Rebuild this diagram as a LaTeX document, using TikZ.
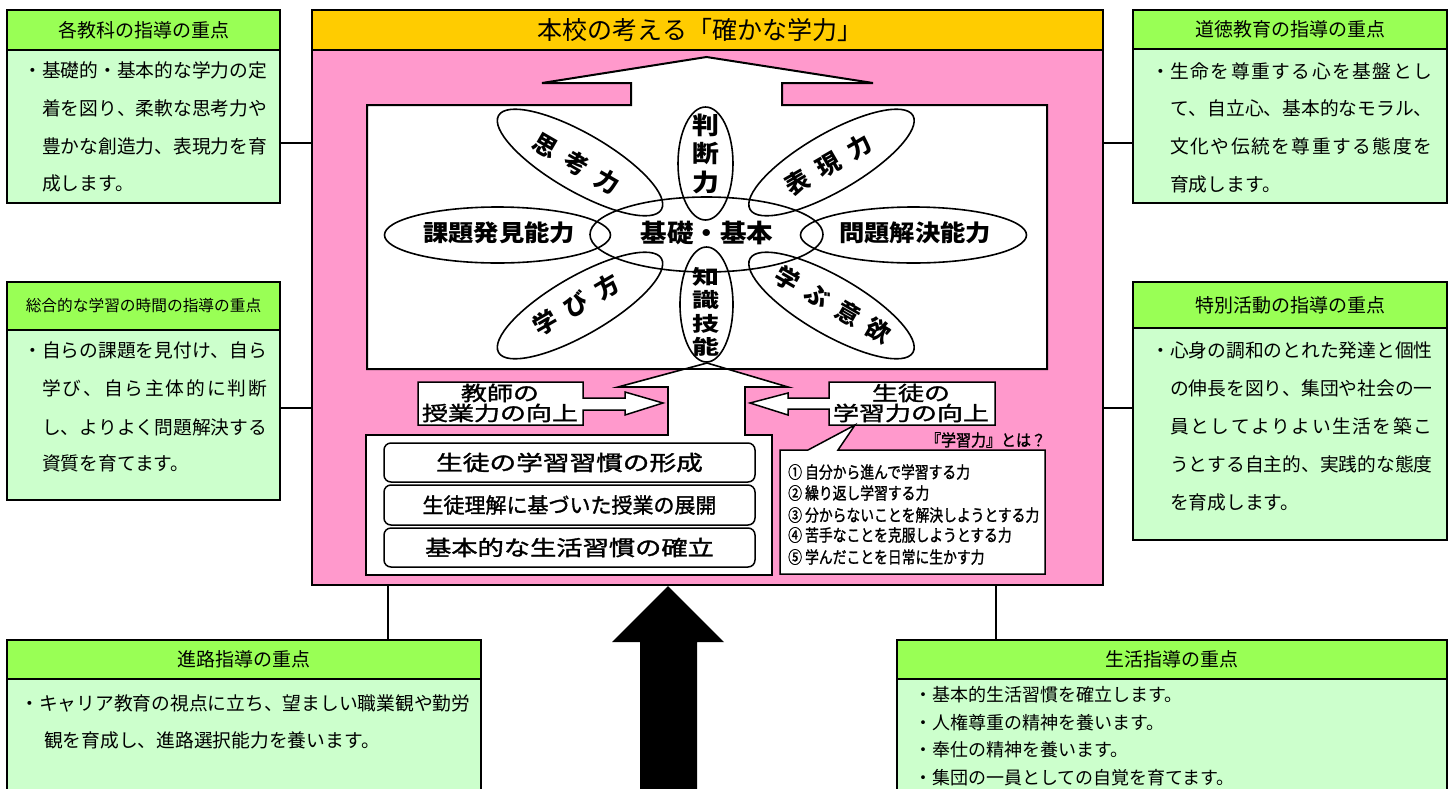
\documentclass[tikz,border=0pt]{standalone}
\usepackage{fontspec}
\usetikzlibrary{shapes.geometric}
\newfontfamily\jp{Noto Sans CJK JP}
\newfontfamily\jpm[FakeBold=1.4]{Noto Sans CJK JP}
\definecolor{hgreen}{RGB}{153,255,85}
\definecolor{lgreen}{RGB}{204,255,204}
\definecolor{pinkc}{RGB}{255,153,204}
\definecolor{yellowc}{RGB}{255,204,0}
\newcommand\fs[1]{\fontsize{#1}{#1}\selectfont}
\makeatletter
\def\spreadchars#1{\spr@a#1\relax}
\def\spr@a#1{#1\futurelet\spr@next\spr@b}
\def\spr@b{\ifx\spr@next\relax\expandafter\@gobble\else\hfill\expandafter\spr@a\fi}
\makeatother
\newcommand\spr[2]{\makebox[#1pt][l]{\spreadchars{#2}}}
\begin{document}
\begin{tikzpicture}[x=1pt,y=-1pt,
  hdr/.style={draw, line width=2pt, fill=hgreen, inner sep=0pt, font=\jp\fs{19}},
  bodyb/.style={draw, line width=2pt, fill=lgreen, inner sep=0pt},
  txt/.style={inner sep=0pt, anchor=west, font=\jp\fs{18.75}},
  ctxt/.style={inner sep=0pt},
  petal/.style={ellipse, draw, line width=1.6pt, inner sep=0pt},
  ptxt/.style={inner sep=0pt, font=\jp\bfseries\fs{24}},
  conn/.style={line width=1.8pt},
  thinl/.style={line width=1.3pt},
  wshape/.style={draw, fill=white, line width=2pt},
  rbox/.style={draw, fill=white, rounded corners=7pt, line width=1.5pt, inner sep=0pt, font=\jpm\fs{21}},
  ltxt/.style={inner sep=0pt, anchor=west, font=\jpm\fs{15}}
]
\useasboundingbox (0,0) rectangle (1450,788);

% ---------- main box ----------
\node[draw, line width=2pt, fill=pinkc, minimum width=791pt, minimum height=575pt, inner sep=0pt] (main) at (707.5,297.5) {};
\node[draw, line width=2pt, fill=yellowc, minimum width=791pt, minimum height=40pt, inner sep=0pt] (title) at (707.5,30) {};
\node[ctxt, font=\jp\fs{25}] (titleT) at (700,30) {本校の考える「確かな学力」};

% upper white arrow + frame
\draw[wshape] (367,105) -- (631,105) -- (631,83) -- (542,83) -- (706.5,57) -- (873,83) -- (782,83) -- (782,105) -- (1047,105) -- (1047,369) -- (367,369) -- cycle;

% lower white arrow + box
\draw[wshape, line width=1.6pt] (366,435) -- (668,435) -- (668,387) -- (618,387) -- (707,363) -- (788,387) -- (745,387) -- (745,435) -- (772,435) -- (772,575) -- (366,575) -- cycle;
\draw[line width=2pt] (367,369) -- (1047,369);

% ellipses
\node[petal, minimum width=233pt, minimum height=75pt] (kiso) at (706.5,234.5) {};
\node[petal, minimum width=226pt, minimum height=56pt] (kadai) at (497.5,235) {};
\node[petal, minimum width=226pt, minimum height=56pt] (mondai) at (913.5,235) {};
\node[petal, minimum width=55pt, minimum height=113pt] (handan) at (705.5,163.5) {};
\node[petal, minimum width=53pt, minimum height=115pt] (chishiki) at (706.5,304.5) {};
\node[petal, minimum width=188pt, minimum height=58pt, rotate=-30] (shiko) at (580,162.5) {};
\node[petal, minimum width=188pt, minimum height=58pt, rotate=30] (hyogen) at (831.5,162.5) {};
\node[petal, minimum width=188pt, minimum height=58pt, rotate=30] (manabikata) at (580,305.5) {};
\node[petal, minimum width=188pt, minimum height=58pt, rotate=-30] (manabu) at (831.5,305.5) {};

\node[ctxt, font=\jp\bfseries\fs{25}] (kisoT) at (707,233) {\scalebox{1.06}[1]{基礎・基本}};
\node[ctxt, font=\jp\bfseries\fs{23}] (kadaiT) at (499,233) {\scalebox{1.1}[1]{課題発見能力}};
\node[ctxt, font=\jp\bfseries\fs{23}] (mondaiT) at (915,233) {\scalebox{1.1}[1]{問題解決能力}};
\node[ctxt, font=\jp\bfseries\fontsize{24}{26.5}\selectfont] (handanT) at (705.5,156.5) {\scalebox{1.12}[1]{\begin{tabular}{@{}c@{}}判\\断\\力\end{tabular}}};
\node[ctxt, font=\jp\bfseries\fontsize{20}{20.7}\selectfont] (chishikiT) at (706,314) {\scalebox{1.35}[1]{\begin{tabular}{@{}c@{}}知\\識\\技\\能\end{tabular}}};
\node[ptxt, rotate=-30] (shikoT) at (576.5,163.5) {思\hspace{12pt}考\hspace{12pt}力};
\node[ptxt, rotate=30] (hyogenT) at (828.5,164.5) {表\hspace{12pt}現\hspace{12pt}力};
\node[ptxt, rotate=30] (manabikataT) at (576.5,305) {学\hspace{12pt}び\hspace{12pt}方};
\node[ptxt, rotate=-30] (manabuT) at (833,304.5) {学\hspace{11pt}ぶ\hspace{11pt}意\hspace{11pt}欲};

% block arrows
\draw[wshape, line width=1.5pt] (418,382) -- (583,382) -- (583,398) -- (625,398) -- (625,392) -- (663,403) -- (625,415) -- (625,410) -- (583,410) -- (583,425) -- (418,425) -- cycle;
\node[ctxt, align=center, font=\jpm\fs{20}] (kyoshiT) at (500,403) {\scalebox{1.3}[1]{教師の}\\\scalebox{1.3}[1]{授業力の向上}};
\draw[wshape, line width=1.5pt] (995,382) -- (829,382) -- (829,398) -- (788,398) -- (788,393) -- (750,403) -- (788,415) -- (788,409) -- (829,409) -- (829,425) -- (995,425) -- cycle;
\node[ctxt, align=center, font=\jpm\fs{20}] (seitoT) at (911,403) {\scalebox{1.3}[1]{生徒の}\\\scalebox{1.3}[1]{学習力の向上}};

% balloon
\draw[wshape, line width=1.5pt] (780,450) -- (808,450) -- (855,425) -- (838,450) -- (1045,450) -- (1045,574) -- (780,574) -- cycle;
\node[ctxt, font=\jpm\fs{15}] (gakushuT) at (986,440) {\scalebox{1}[1.1]{『学習力』とは？}};
\node[ltxt] (l1) at (788,472) {\scalebox{0.92}[1.12]{① 自分から進んで学習する力}};
\node[ltxt] (l2) at (788,493) {\scalebox{0.92}[1.12]{② 繰り返し学習する力}};
\node[ltxt] (l3) at (788,515) {\scalebox{0.92}[1.12]{③ 分からないことを解決しようとする力}};
\node[ltxt] (l4) at (788,535) {\scalebox{0.92}[1.12]{④ 苦手なことを克服しようとする力}};
\node[ltxt] (l5) at (788,557) {\scalebox{0.92}[1.12]{⑤ 学んだことを日常に生かす力}};

% rounded boxes
\node[rbox, minimum width=371pt, minimum height=39pt] (r1) at (569.5,462.5) {\scalebox{1.27}[1]{生徒の学習習慣の形成}};
\node[rbox, minimum width=371pt, minimum height=40pt] (r2) at (569.5,505) {生徒理解に基づいた授業の展開};
\node[rbox, minimum width=371pt, minimum height=39pt] (r3) at (569.5,547.5) {\scalebox{1.25}[1]{基本的な生活習慣の確立}};

% ---------- side boxes ----------
\node[bodyb, minimum width=273pt, minimum height=193pt] (kyoka) at (143.5,106.5) {};
\node[hdr, minimum width=273pt, minimum height=40pt] (kyokaH) at (143.5,30) {各教科の指導の重点};
\node[txt] (k1) at (42,70) {\llap{・}\spr{225}{基礎的・基本的な学力の定}};
\node[txt] (k2) at (42,108) {\spr{225}{着を図り、柔軟な思考力や}};
\node[txt] (k3) at (42,146) {\spr{225}{豊かな創造力、表現力を育}};
\node[txt] (k4) at (42,183) {成します。};

\node[bodyb, minimum width=273pt, minimum height=218pt] (sogo) at (143.5,391) {};
\node[hdr, minimum width=273pt, minimum height=48pt, font=\jp\fs{15.7}] (sogoH) at (143.5,306) {総合的な学習の時間の指導の重点};
\node[txt] (s1) at (42,350) {\llap{・}\spr{225}{自らの課題を見付け、自ら}};
\node[txt] (s2) at (42,388) {\spr{225}{学び、自ら主体的に判断}};
\node[txt] (s3) at (42,427) {\spr{225}{し、よりよく問題解決する}};
\node[txt] (s4) at (42,463) {資質を育てます。};

\node[bodyb, minimum width=314pt, minimum height=193pt] (dotoku) at (1290,106.5) {};
\node[hdr, minimum width=314pt, minimum height=39pt] (dotokuH) at (1290,29.5) {道徳教育の指導の重点};
\node[txt] (d1) at (1170,71) {\llap{・}\spr{262}{生命を尊重する心を基盤とし}};
\node[txt] (d2) at (1170,108) {\spr{262}{て、自立心、基本的なモラル、}};
\node[txt] (d3) at (1170,146) {\spr{262}{文化や伝統を尊重する態度を}};
\node[txt] (d4) at (1170,184) {育成します。};

\node[bodyb, minimum width=314pt, minimum height=258pt] (tokkatsu) at (1290,411) {};
\node[hdr, minimum width=314pt, minimum height=46pt] (tokkatsuH) at (1290,305) {特別活動の指導の重点};
\node[txt] (t1) at (1170,350) {\llap{・}\spr{262}{心身の調和のとれた発達と個性}};
\node[txt] (t2) at (1170,388) {\spr{262}{の伸長を図り、集団や社会の一}};
\node[txt] (t3) at (1170,426) {\spr{262}{員としてよりよい生活を築こ}};
\node[txt] (t4) at (1170,464) {\spr{262}{うとする自主的、実践的な態度}};
\node[txt] (t5) at (1170,502) {を育成します。};

\node[bodyb, minimum width=474pt, minimum height=160pt] (shinro) at (244,720) {};
\node[hdr, minimum width=474pt, minimum height=39pt] (shinroH) at (244,659.5) {進路指導の重点};
\node[txt] (n1) at (39,703) {\llap{・}キャリア教育の視点に立ち、望ましい職業観や勤労};
\node[txt] (n2) at (44,740) {観を育成し、進路選択能力を養います。};

\node[bodyb, minimum width=550pt, minimum height=160pt] (seikatsu) at (1172,720) {};
\node[hdr, minimum width=550pt, minimum height=39pt] (seikatsuH) at (1172,659.5) {生活指導の重点};
\node[txt, font=\jp\fs{18}] (e1) at (932,695) {\llap{・}基本的生活習慣を確立します。};
\node[txt, font=\jp\fs{18}] (e2) at (932,723) {\llap{・}人権尊重の精神を養います。};
\node[txt, font=\jp\fs{18}] (e3) at (932,750) {\llap{・}奉仕の精神を養います。};
\node[txt, font=\jp\fs{18}] (e4) at (932,778) {\llap{・}集団の一員としての自覚を育てます。};

% connectors
\coordinate (ya) at (0,143);
\coordinate (yb) at (0,408);
\coordinate (xa) at (388,0);
\coordinate (xb) at (996,0);
\draw[conn] (kyoka.east |- ya) -- (main.west |- ya);
\draw[conn] (sogo.east |- yb) -- (main.west |- yb);
\draw[conn] (main.east |- ya) -- (dotoku.west |- ya);
\draw[conn] (main.east |- yb) -- (tokkatsu.west |- yb);
\draw[thinl] (main.south -| xa) -- (shinroH.north -| xa);
\draw[thinl] (main.south -| xb) -- (seikatsuH.north -| xb);

% black arrow
\fill (668,586) -- (724,642) -- (697,642) -- (697,800) -- (640,800) -- (640,642) -- (612,642) -- cycle;
\end{tikzpicture}
\end{document}
